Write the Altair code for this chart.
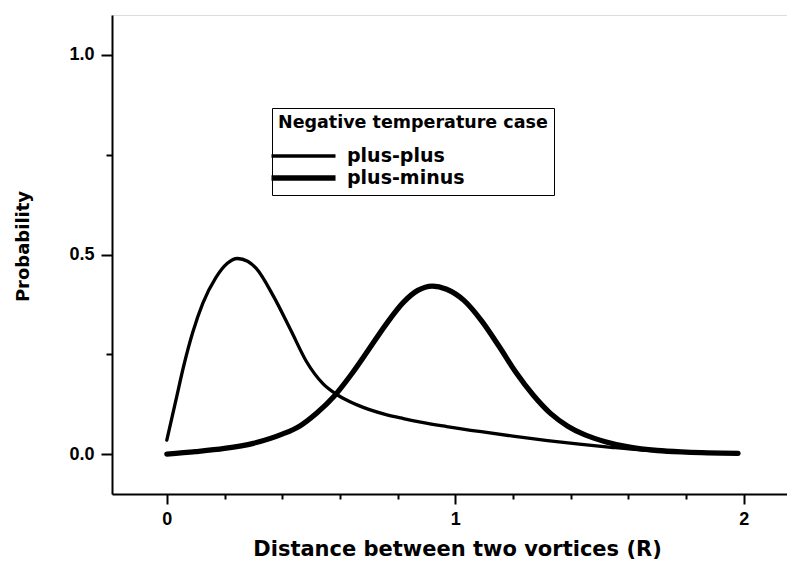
import altair as alt
import pandas as pd

# plus-plus (thin line)
pp_x = [0.0, 0.03, 0.06, 0.09, 0.125, 0.17, 0.21, 0.245, 0.28, 0.31, 0.37, 0.43, 0.484, 0.542,
        0.59, 0.635, 0.70, 0.76, 0.82, 0.88, 0.97, 1.09, 1.2, 1.32, 1.43, 1.54, 1.65, 1.79, 1.98]
pp_y = [0.035, 0.13, 0.225, 0.305, 0.378, 0.442, 0.478, 0.49, 0.483, 0.465, 0.395, 0.31, 0.232, 0.176,
        0.149, 0.131, 0.112, 0.099, 0.089, 0.08, 0.069, 0.056, 0.045, 0.034, 0.025, 0.017, 0.01, 0.005, 0.002]

# plus-minus (thick line)
pm_x = [0.0, 0.1, 0.2, 0.3, 0.4, 0.46, 0.52, 0.58, 0.64, 0.70, 0.76, 0.82, 0.87, 0.92, 0.97,
        1.03, 1.09, 1.15, 1.21, 1.27, 1.33, 1.39, 1.45, 1.52, 1.60, 1.70, 1.80, 1.98]
pm_y = [0.0, 0.006, 0.014, 0.027, 0.05, 0.07, 0.103, 0.145, 0.2, 0.262, 0.325, 0.38, 0.41, 0.421, 0.413,
        0.385, 0.335, 0.272, 0.205, 0.148, 0.102, 0.07, 0.048, 0.031, 0.018, 0.009, 0.005, 0.002]

series_names = ["plus-plus", "plus-minus"]
legend_title = "Negative temperature case"
x_title = "Distance between two vortices (R)"
y_title = "Probability"
x_ticks = [0, 0.2, 0.4, 0.6, 0.8, 1, 1.2, 1.4, 1.6, 1.8, 2]
y_ticks = [0.0, 0.25, 0.5, 0.75, 1.0]

df = pd.concat([
    pd.DataFrame({"x": pp_x, "y": pp_y, "series": series_names[0]}),
    pd.DataFrame({"x": pm_x, "y": pm_y, "series": series_names[1]}),
])

xscale = alt.Scale(domain=[-0.19, 2.15], nice=False, zero=False)
yscale = alt.Scale(domain=[-0.1, 1.1], nice=False, zero=False)

tick_font = "Liberation Sans"
title_font = "DejaVu Sans"

x_major_test = "abs(datum.value - round(datum.value)) < 1e-6"
y_major_test = "abs(datum.value * 2 - round(datum.value * 2)) < 1e-6"

chart = alt.Chart(df).mark_line(color="black", interpolate="monotone", strokeCap="round").encode(
    x=alt.X("x:Q", scale=xscale, axis=alt.Axis(
        values=x_ticks, tickCount=30, tickMinStep=0.05, title=x_title, orient="bottom",
        labelExpr=f"{x_major_test} ? format(datum.value, 'd') : ''",
        labelOverlap=False,
        tickSize={"condition": {"test": x_major_test, "value": 10}, "value": 5},
        tickWidth=2, tickColor="black", domainWidth=2, domainColor="black",
        labelFont=tick_font, labelFontWeight="bold", labelFontSize=18, labelColor="black",
        labelPadding=6, labelFlush=False,
        titleFont=title_font, titleFontSize=21, titleFontWeight="bold", titleColor="black",
        titlePadding=10, titleX=345, grid=False)),
    y=alt.Y("y:Q", scale=yscale, axis=alt.Axis(
        values=y_ticks, tickCount=30, tickMinStep=0.05, title=y_title, orient="left",
        labelExpr=f"{y_major_test} ? format(datum.value, '.1f') : ''",
        labelOverlap=False,
        tickSize={"condition": {"test": y_major_test, "value": 11}, "value": 6},
        tickWidth=2, tickColor="black", domainWidth=2, domainColor="black",
        labelFont=tick_font, labelFontWeight="bold", labelFontSize=18, labelColor="black",
        labelPadding=7, labelFlush=False,
        titleFont=title_font, titleFontSize=18, titleFontWeight="bold", titleColor="black",
        titlePadding=36, titleY=231, grid=False)),
    strokeWidth=alt.StrokeWidth("series:O", scale=alt.Scale(domain=series_names, range=[3.3, 5.3]),
        legend=alt.Legend(
            title=legend_title, orient="none", legendX=160, legendY=93, direction="vertical",
            symbolType="M-5,0H5", symbolSize=164, symbolStrokeColor="black",
            symbolOffset=16,
            strokeColor="black", fillColor="white", padding=6,
            titleFont=title_font, titleFontSize=17.5, titleFontWeight="bold", titleColor="black",
            titlePadding=15, titleLimit=400,
            labelFont=title_font, labelFontSize=19, labelFontWeight="bold", labelColor="black",
            labelOffset=34, rowPadding=0, labelLimit=300)),
    detail="series:N",
).properties(
    width=675, height=479,
    autosize=alt.AutoSizeParams(type="none"),
    padding={"left": 104, "top": 7, "right": 0, "bottom": 70},
).configure_view(stroke=None).configure(background="white")

chart.save("out.html", embed_options={"renderer": "svg", "actions": False})
